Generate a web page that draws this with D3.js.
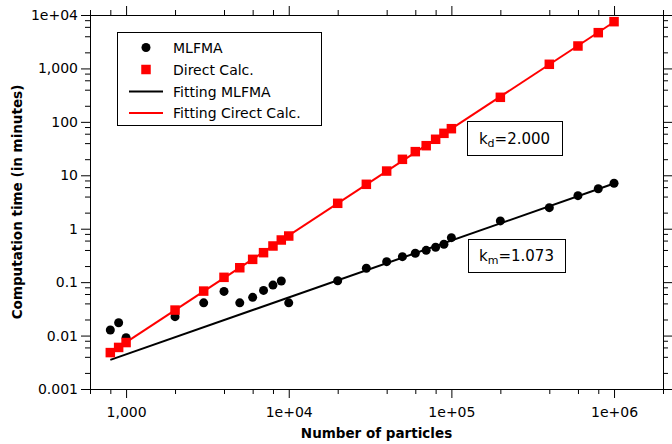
<!DOCTYPE html>
<html>
<head>
<meta charset="utf-8">
<script src="https://cdn.jsdelivr.net/npm/d3@7"></script>
<style>
  body { margin: 0; background: #ffffff; }
</style>
</head>
<body>
<script>
// number of particles (same sizes for both methods)
const particles = [800, 900, 1000, 2000, 3000, 4000, 5000, 6000, 7000, 8000, 9000, 10000,
  20000, 30000, 40000, 50000, 60000, 70000, 80000, 90000, 100000,
  200000, 400000, 600000, 800000, 1000000];

// computation time in minutes
const mlfmaTimes = [0.0127, 0.0174, 0.0091, 0.0226, 0.041, 0.067, 0.041, 0.052, 0.070, 0.088, 0.105, 0.041,
  0.106, 0.182, 0.242, 0.30, 0.347, 0.394, 0.449, 0.511, 0.68,
  1.40, 2.48, 4.15, 5.61, 7.08];
const directTimes = [0.0048, 0.0060, 0.0074, 0.030, 0.068, 0.123, 0.186, 0.267, 0.356, 0.475, 0.615, 0.73,
  2.99, 6.78, 12.0, 19.9, 27.7, 35.8, 47.2, 61, 74.5,
  288, 1195, 2630, 4670, 7500];

// fitted lines (end points)
const fitMlfmaX = [800, 1000000];
const fitMlfmaY = [0.0035, 7.0];
const fitDirectX = [800, 1000000];
const fitDirectY = [0.0048, 7400];

const xTickValues = [1000, 10000, 100000, 1000000];
const xTickLabels = ["1,000", "1e+04", "1e+05", "1e+06"];
const yTickValues = [0.001, 0.01, 0.1, 1, 10, 100, 1000, 10000];
const yTickLabels = ["0.001", "0.01", "0.1", "1", "10", "100", "1,000", "1e+04"];

const legendLabels = ["MLFMA", "Direct Calc.", "Fitting MLFMA", "Fitting Cirect Calc."];

let fontFamily = "DejaVu Sans, Verdana, sans-serif";
let red = "#ff0000";

let svg = d3.select("body").append("svg")
  .attr("width", 672)
  .attr("height", 444);

let plotLeft = 90, plotRight = 663, plotTop = 15, plotBottom = 389;

let x = d3.scaleLog().domain([600, 2000000]).range([plotLeft, plotRight]);
let y = d3.scaleLog().domain([0.001, 10000]).range([plotBottom, plotTop]);

// minor ticks at 2,4,6,8 of every decade
function leading(v) {
  return Math.round(v / Math.pow(10, Math.floor(Math.log10(v) + 1e-9)));
}
let xMinor = x.ticks().filter(v => [2, 4, 6, 8].includes(leading(v)));
let yMinor = y.ticks().filter(v => [2, 4, 6, 8].includes(leading(v)));

function styleAxis(g) {
  g.select(".domain").remove();
  g.selectAll("line").attr("stroke", "#000");
  g.selectAll("text")
    .attr("fill", "#000")
    .style("font-family", fontFamily)
    .style("font-size", "14px");
}

// bottom axis
svg.append("g")
  .attr("transform", "translate(0," + plotBottom + ")")
  .call(d3.axisBottom(x).tickValues(xMinor).tickSize(5).tickSizeOuter(0).tickFormat(""))
  .call(styleAxis);
svg.append("g")
  .attr("transform", "translate(0," + plotBottom + ")")
  .call(d3.axisBottom(x).tickValues(xTickValues).tickSize(9).tickSizeOuter(0).tickPadding(9)
    .tickFormat((d, i) => xTickLabels[i]))
  .call(styleAxis);

// top axis
svg.append("g")
  .attr("transform", "translate(0," + plotTop + ")")
  .call(d3.axisTop(x).tickValues(xMinor).tickSize(5).tickSizeOuter(0).tickFormat(""))
  .call(styleAxis);
svg.append("g")
  .attr("transform", "translate(0," + plotTop + ")")
  .call(d3.axisTop(x).tickValues(xTickValues).tickSize(9).tickSizeOuter(0).tickFormat(""))
  .call(styleAxis);

// left axis
svg.append("g")
  .attr("transform", "translate(" + plotLeft + ",0)")
  .call(d3.axisLeft(y).tickValues(yMinor).tickSize(5).tickSizeOuter(0).tickFormat(""))
  .call(styleAxis);
svg.append("g")
  .attr("transform", "translate(" + plotLeft + ",0)")
  .call(d3.axisLeft(y).tickValues(yTickValues).tickSize(9).tickSizeOuter(0).tickPadding(3)
    .tickFormat((d, i) => yTickLabels[i]))
  .call(styleAxis);

// right axis
svg.append("g")
  .attr("transform", "translate(" + plotRight + ",0)")
  .call(d3.axisRight(y).tickValues(yMinor).tickSize(5).tickSizeOuter(0).tickFormat(""))
  .call(styleAxis);
svg.append("g")
  .attr("transform", "translate(" + plotRight + ",0)")
  .call(d3.axisRight(y).tickValues(yTickValues).tickSize(9).tickSizeOuter(0).tickFormat(""))
  .call(styleAxis);

// frame
svg.append("rect")
  .attr("x", plotLeft + 0.5)
  .attr("y", plotTop + 0.5)
  .attr("width", plotRight - plotLeft)
  .attr("height", plotBottom - plotTop)
  .style("fill", "none")
  .style("stroke", "#000")
  .style("stroke-width", 1);

// axis titles
svg.append("text")
  .attr("x", (plotLeft + plotRight) / 2)
  .attr("y", 438)
  .text("Number of particles")
  .style("font-family", fontFamily)
  .style("font-size", "13.5px")
  .style("font-weight", "bold")
  .style("text-anchor", "middle");
svg.append("text")
  .attr("transform", "translate(22," + (plotTop + plotBottom) / 2 + ")rotate(-90)")
  .text("Computation time (in minutes)")
  .style("font-family", fontFamily)
  .style("font-size", "13.5px")
  .style("font-weight", "bold")
  .style("text-anchor", "middle");

// fitting lines
let line = d3.line().x(d => x(d[0])).y(d => y(d[1]));
svg.append("path")
  .attr("d", line(d3.zip(fitMlfmaX, fitMlfmaY)))
  .style("fill", "none")
  .style("stroke", "#000")
  .style("stroke-width", 2);
svg.append("path")
  .attr("d", line(d3.zip(fitDirectX, fitDirectY)))
  .style("fill", "none")
  .style("stroke", red)
  .style("stroke-width", 2);

// data points
svg.selectAll(".mlfma")
  .data(d3.zip(particles, mlfmaTimes))
  .enter().append("circle")
  .attr("class", "mlfma")
  .attr("cx", d => x(d[0]))
  .attr("cy", d => y(d[1]))
  .attr("r", 4.5)
  .style("fill", "#000");

let sq = 9.5;
svg.selectAll(".direct")
  .data(d3.zip(particles, directTimes))
  .enter().append("rect")
  .attr("class", "direct")
  .attr("x", d => x(d[0]) - sq / 2)
  .attr("y", d => y(d[1]) - sq / 2)
  .attr("width", sq)
  .attr("height", sq)
  .style("fill", red);

// legend
let legend = svg.append("g");
legend.append("rect")
  .attr("x", 117.5)
  .attr("y", 32.5)
  .attr("width", 204)
  .attr("height", 93)
  .style("fill", "#fff")
  .style("stroke", "#000")
  .style("stroke-width", 1);

let legendY = [47.5, 69.5, 91.5, 113];
legend.append("circle")
  .attr("cx", 146).attr("cy", legendY[0]).attr("r", 4.5)
  .style("fill", "#000");
legend.append("rect")
  .attr("x", 146 - sq / 2).attr("y", legendY[1] - sq / 2)
  .attr("width", sq).attr("height", sq)
  .style("fill", red);
legend.append("line")
  .attr("x1", 129).attr("x2", 163).attr("y1", legendY[2]).attr("y2", legendY[2])
  .style("stroke", "#000").style("stroke-width", 2);
legend.append("line")
  .attr("x1", 129).attr("x2", 163).attr("y1", legendY[3]).attr("y2", legendY[3])
  .style("stroke", red).style("stroke-width", 2);

legendLabels.forEach((label, i) => {
  legend.append("text")
    .attr("x", 173)
    .attr("y", legendY[i])
    .attr("dy", "0.36em")
    .text(label)
    .style("font-family", fontFamily)
    .style("font-size", "14px");
});

// slope annotations
function addSlopeBox(bx, by, bw, bh, sub, value) {
  svg.append("rect")
    .attr("x", bx + 0.5).attr("y", by + 0.5)
    .attr("width", bw).attr("height", bh)
    .style("fill", "#fff")
    .style("stroke", "#000")
    .style("stroke-width", 1);
  let t = svg.append("text")
    .attr("x", bx + bw / 2)
    .attr("y", by + bh / 2 + 5.5)
    .style("font-family", fontFamily)
    .style("font-size", "15px")
    .style("text-anchor", "middle");
  t.append("tspan").text("k");
  t.append("tspan").text(sub).attr("dy", 3).style("font-size", "11px");
  t.append("tspan").text("=" + value).attr("dy", -3);
}
addSlopeBox(467, 121, 95, 34, "d", "2.000");
addSlopeBox(468, 239, 97, 33, "m", "1.073");
</script>
</body>
</html>
